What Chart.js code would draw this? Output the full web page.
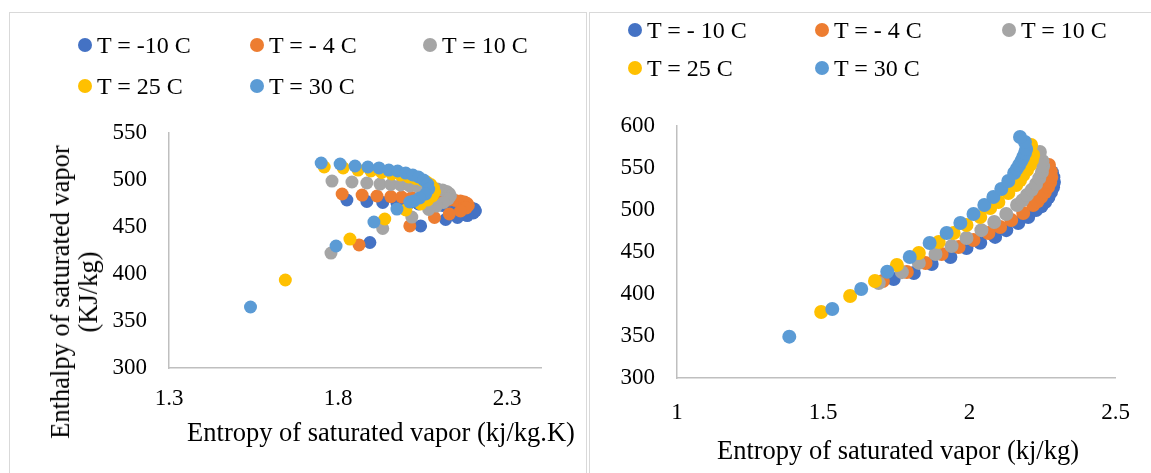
<!DOCTYPE html>
<html>
<head>
<meta charset="utf-8">
<script src="https://cdn.jsdelivr.net/npm/chart.js@4.4.0/dist/chart.umd.min.js"></script>
<style>
  body { margin: 0; background: #fff; width: 1151px; height: 473px; overflow: hidden; position: relative; font-family: "Liberation Serif", "Times New Roman", serif; }
  .panel { position: absolute; border: 1px solid #d9d9d9; box-sizing: border-box; }
  canvas { position: absolute; top: 0; }
  .lg { position: absolute; font-size: 24px; color: #000; white-space: nowrap; line-height: 1; }
  .lg i { position: absolute; width: 14px; height: 14px; border-radius: 50%; left: -19px; top: 5px; }
  .ttl { position: absolute; font-size: 26.5px; color: #000; white-space: nowrap; text-align: center; line-height: 28px; }
</style>
</head>
<body>
<div class="panel" style="left:9px;top:12px;width:578px;height:480px;"></div>
<div class="panel" style="left:589px;top:12px;width:580px;height:480px;"></div>
<canvas id="cLeft" width="590" height="473" style="left:0;"></canvas>
<canvas id="cRight" width="561" height="473" style="left:590px;"></canvas>
<div id="legends"></div>
<div class="ttl" style="left:74px;top:292px;transform:translate(-50%,-50%) rotate(-90deg);">Enthalpy of saturated vapor<br>(KJ/kg)</div>
<div class="ttl" style="left:381px;top:432px;transform:translate(-50%,-50%);">Entropy of saturated vapor (kj/kg.K)</div>
<div class="ttl" style="left:898px;top:450px;transform:translate(-50%,-50%);">Entropy of saturated vapor (kj/kg)</div>
<script>
/* ===== Datos ===== */
const labelsLeft = ["T = -10 C", "T = - 4 C", "T = 10 C", "T = 25 C", "T = 30 C"];
const labelsRight = ["T = - 10 C", "T = - 4 C", "T = 10 C", "T = 25 C", "T = 30 C"];
const colors = ["#4472C4", "#ED7D31", "#A5A5A5", "#FFC000", "#5B9BD5"];

const xTicksLeft = [1.3, 1.8, 2.3];
const yTicksLeft = [300, 350, 400, 450, 500, 550];
const xTicksRight = [1, 1.5, 2, 2.5];
const yTicksRight = [300, 350, 400, 450, 500, 550, 600];

// grafico izquierdo
const leftXm10 = [1.826, 1.885, 1.932, 1.974, 2.009, 2.038, 2.065, 2.088, 2.109, 2.129, 2.147, 2.165, 2.179, 2.194, 2.203, 2.206, 2.200, 2.182, 2.153, 2.118, 2.044, 1.894];
const leftYm10 = [478.7, 477.1, 476.1, 475.5, 475.0, 474.5, 473.9, 473.4, 472.9, 472.3, 471.8, 471.3, 470.7, 470.2, 469.1, 467.0, 464.9, 462.2, 460.1, 458.0, 451.1, 433.5];
const leftXm4 = [1.812, 1.871, 1.915, 1.956, 1.988, 2.018, 2.044, 2.068, 2.091, 2.112, 2.129, 2.147, 2.162, 2.174, 2.182, 2.185, 2.179, 2.162, 2.129, 2.085, 2.012, 1.862];
const leftYm4 = [485.1, 484.0, 483.0, 482.4, 481.9, 481.4, 480.9, 480.3, 479.8, 479.3, 478.7, 478.2, 477.7, 476.6, 475.0, 472.9, 470.2, 467.0, 463.8, 460.1, 451.1, 430.9];
const leftX10 = [1.782, 1.841, 1.885, 1.924, 1.956, 1.985, 2.012, 2.035, 2.056, 2.076, 2.094, 2.109, 2.121, 2.129, 2.132, 2.126, 2.112, 2.091, 2.068, 2.018, 1.932, 1.779];
const leftY10 = [498.9, 497.9, 496.8, 495.7, 495.2, 494.7, 493.6, 493.1, 492.6, 491.5, 490.4, 489.4, 487.8, 485.6, 483.0, 479.8, 476.1, 472.3, 468.6, 460.6, 448.4, 422.3];
const leftX25 = [1.759, 1.815, 1.859, 1.897, 1.929, 1.959, 1.985, 2.009, 2.029, 2.047, 2.062, 2.074, 2.082, 2.085, 2.079, 2.065, 2.044, 2.000, 1.938, 1.835, 1.644];
const leftY25 = [513.8, 512.8, 510.6, 509.6, 508.0, 506.4, 505.3, 503.2, 501.6, 500.0, 497.9, 495.2, 491.5, 487.2, 483.0, 478.7, 474.5, 468.1, 458.5, 437.2, 393.6];
const leftX30 = [1.750, 1.806, 1.850, 1.888, 1.921, 1.950, 1.976, 2.000, 2.021, 2.038, 2.053, 2.065, 2.068, 2.059, 2.041, 2.024, 2.012, 1.974, 1.906, 1.794, 1.541];
const leftY30 = [518.1, 517.0, 514.9, 513.8, 512.8, 510.6, 509.6, 507.4, 505.3, 503.2, 500.0, 495.7, 490.4, 485.1, 480.9, 477.7, 476.6, 469.1, 455.3, 429.8, 364.9];

// grafico derecho
const rightXm10 = [1.741, 1.810, 1.871, 1.935, 1.990, 2.037, 2.088, 2.126, 2.167, 2.201, 2.228, 2.246, 2.259, 2.270, 2.279, 2.286, 2.289, 2.287, 2.282];
const rightYm10 = [417.9, 425.0, 435.7, 444.0, 454.8, 461.0, 468.0, 476.0, 484.5, 491.7, 500.0, 504.5, 509.5, 515.0, 521.4, 527.0, 533.3, 539.0, 545.0];
const rightXm4 = [1.704, 1.786, 1.850, 1.905, 1.963, 2.014, 2.065, 2.105, 2.143, 2.184, 2.218, 2.233, 2.245, 2.258, 2.269, 2.276, 2.280, 2.278, 2.272];
const rightYm4 = [415.5, 426.2, 436.9, 447.6, 456.0, 464.3, 472.6, 479.8, 488.1, 496.4, 506.0, 510.5, 515.5, 521.0, 527.4, 533.0, 539.3, 546.0, 553.6];
const rightX10 = [1.690, 1.769, 1.827, 1.884, 1.939, 1.990, 2.041, 2.085, 2.126, 2.163, 2.181, 2.197, 2.213, 2.228, 2.239, 2.248, 2.252, 2.250, 2.241];
const rightY10 = [413.0, 426.0, 437.0, 447.6, 457.0, 466.7, 476.0, 485.7, 495.2, 506.0, 511.5, 517.9, 524.0, 531.0, 538.0, 545.2, 552.0, 558.3, 569.0];
const rightX25 = [1.493, 1.592, 1.677, 1.752, 1.827, 1.895, 1.946, 1.990, 2.037, 2.071, 2.099, 2.133, 2.160, 2.173, 2.184, 2.197, 2.207, 2.214, 2.218, 2.211];
const rightY25 = [378.6, 397.6, 415.5, 434.5, 448.8, 461.9, 472.6, 482.1, 491.7, 502.4, 509.5, 520.2, 529.8, 535.5, 541.7, 547.5, 553.6, 559.5, 565.5, 577.4];
const rightX30 = [1.384, 1.531, 1.630, 1.719, 1.796, 1.864, 1.922, 1.969, 2.014, 2.051, 2.082, 2.109, 2.133, 2.153, 2.162, 2.170, 2.178, 2.184, 2.190, 2.194, 2.190, 2.173];
const rightY30 = [349.2, 382.1, 406.0, 426.5, 444.0, 460.7, 472.6, 484.5, 495.2, 506.0, 515.5, 525.0, 534.5, 544.0, 549.0, 553.6, 558.5, 563.1, 568.0, 572.6, 581.0, 586.9];

/* ===== Helpers ===== */
const pts = (xs, ys) => xs.map((x, i) => ({ x, y: ys[i] }));
const tickFont = { family: "Liberation Serif", size: 23 };

function makeDatasets(labels, xs, ys, radius) {
  return labels.map((lab, i) => ({
    label: lab,
    data: pts(xs[i], ys[i]),
    backgroundColor: colors[i],
    borderWidth: 0,
    pointRadius: radius,
    pointHoverRadius: radius,
    order: labels.length - i, // la ultima serie queda encima
  }));
}

function makeChart(id, datasets, cfg) {
  return new Chart(document.getElementById(id), {
    type: "scatter",
    data: { datasets },
    options: {
      responsive: false,
      animation: false,
      layout: { padding: cfg.padding },
      plugins: { legend: { display: false }, tooltip: { enabled: false } },
      scales: {
        x: {
          type: "linear",
          min: cfg.xMin,
          max: cfg.xMax,
          afterBuildTicks: (s) => { s.ticks = cfg.xTicks.map((v) => ({ value: v })); },
          afterFit: (s) => { s.height = cfg.xHeight; },
          grid: { display: false, drawTicks: false },
          border: { color: "#BFBFBF", width: 1.5 },
          ticks: { font: tickFont, color: "#000", padding: cfg.xPad, maxRotation: 0, callback: (v) => String(v) },
        },
        y: {
          type: "linear",
          min: cfg.yMin,
          max: cfg.yMax,
          afterBuildTicks: (s) => { s.ticks = cfg.yTicks.map((v) => ({ value: v })); },
          afterFit: (s) => { s.width = cfg.yWidth; },
          grid: { display: false, drawTicks: false },
          border: { color: "#BFBFBF", width: 1.5 },
          ticks: { font: tickFont, color: "#000", padding: cfg.yPad, callback: (v) => String(v) },
        },
      },
    },
  });
}

function buildLegend(labels, cols, rows) {
  const box = document.getElementById("legends");
  labels.forEach((lab, i) => {
    const d = document.createElement("div");
    d.className = "lg";
    d.style.left = cols[i % 3] + 12 + "px";
    d.style.top = rows[Math.floor(i / 3)] - 12 + "px";
    d.innerHTML = `<i style="background:${colors[i]}"></i>${lab}`;
    box.appendChild(d);
  });
}

/* ===== Init ===== */
makeChart(
  "cLeft",
  makeDatasets(labelsLeft, [leftXm10, leftXm4, leftX10, leftX25, leftX30], [leftYm10, leftYm4, leftY10, leftY25, leftY30], 6.5),
  {
    padding: { left: 109, right: 49, top: 133, bottom: 0 },
    xMin: 1.3, xMax: 2.4, xTicks: xTicksLeft, xHeight: 105, xPad: 17,
    yMin: 300, yMax: 550, yTicks: yTicksLeft, yWidth: 60, yPad: 22,
  }
);

makeChart(
  "cRight",
  makeDatasets(labelsRight, [rightXm10, rightXm4, rightX10, rightX25, rightX30], [rightYm10, rightYm4, rightY10, rightY25, rightY30], 7),
  {
    padding: { left: 27, right: 31, top: 126, bottom: 0 },
    xMin: 1, xMax: 2.5, xTicks: xTicksRight, xHeight: 95, xPad: 21,
    yMin: 300, yMax: 600, yTicks: yTicksRight, yWidth: 60, yPad: 22,
  }
);

buildLegend(labelsLeft, [85, 257, 430], [45, 86]);
buildLegend(labelsRight, [635, 822, 1009], [30, 68]);
</script>
</body>
</html>
